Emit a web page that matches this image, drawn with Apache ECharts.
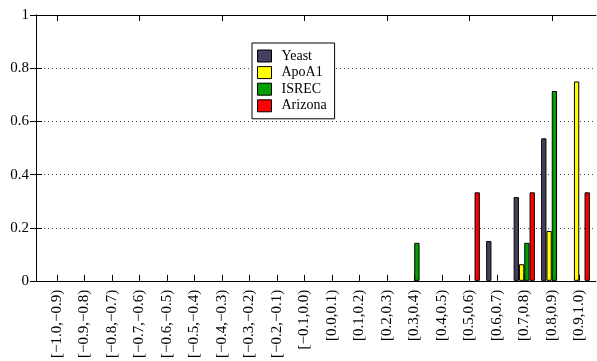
<!DOCTYPE html>
<html><head><meta charset="utf-8">
<script src="https://cdn.jsdelivr.net/npm/echarts@6/dist/echarts.min.js"></script>
<style>html,body{margin:0;padding:0;background:#fff}#c{width:597px;height:361px}</style>
</head><body><div id="c"></div>
<script>
const categories = ["[\u22121.0,\u22120.9)","[\u22120.9,\u22120.8)","[\u22120.8,\u22120.7)","[\u22120.7,\u22120.6)","[\u22120.6,\u22120.5)","[\u22120.5,\u22120.4)","[\u22120.4,\u22120.3)","[\u22120.3,\u22120.2)","[\u22120.2,\u22120.1)","[\u22120.1,0.0)","[0.0,0.1)","[0.1,0.2)","[0.2,0.3)","[0.3,0.4)","[0.4,0.5)","[0.5,0.6)","[0.6,0.7)","[0.7,0.8)","[0.8,0.9)","[0.9,1.0)"];
const seriesNames = ["Yeast","ApoA1","ISREC","Arizona"];
const yeast   = [0,0,0,0,0,0,0,0,0,0,0,0,0,0,0,0,0.15,0.315,0.536,0];
const apoa1   = [0,0,0,0,0,0,0,0,0,0,0,0,0,0,0,0,0,0.0625,0.1875,0.75];
const isrec   = [0,0,0,0,0,0,0,0,0,0,0,0,0,0.143,0,0,0,0.143,0.714,0];
const arizona = [0,0,0,0,0,0,0,0,0,0,0,0,0,0,0,0.333,0,0.333,0,0.333];
const colors = ["#463f5f","#ffff00","#00a000","#ff0000"];
const yTicks = {min:0, max:1, interval:0.2};

const font = "'Liberation Serif','DejaVu Serif',serif";
const chart = echarts.init(document.getElementById('c'), null, {renderer:'canvas'});
const values = [yeast, apoa1, isrec, arizona];
chart.setOption({
  animation:false,
  backgroundColor:'#fff',
  color: colors,
  legend:{
    orient:'vertical', left:252, top:43,
    padding:[6,8,6,5], itemGap:2.6, itemWidth:14, itemHeight:12,
    backgroundColor:'#fff', borderColor:'#000', borderWidth:1,
    icon:'rect',
    itemStyle:{borderColor:'#000', borderWidth:1},
    textStyle:{fontFamily:font, fontSize:14, lineHeight:12, color:'#000', padding:[0,0,0,5]},
    data: seriesNames
  },
  grid:[
    {left:43, right:4, top:15, bottom:80},
    {left:36, right:1, top:15, bottom:80}
  ],
  xAxis:[
    {type:'category', gridIndex:0, position:'bottom', data:categories,
     axisLine:{show:false},
     axisTick:{show:true, inside:true, length:6, alignWithLabel:true, lineStyle:{color:'#000'}},
     axisLabel:{rotate:90, margin:9, fontFamily:font, fontSize:15, color:'#000', interval:0}},
    {type:'category', gridIndex:0, position:'top', data:categories,
     axisLine:{show:false},
     axisTick:{show:true, inside:true, length:6, alignWithLabel:true, lineStyle:{color:'#000'}},
     axisLabel:{show:false}},
    {type:'value', gridIndex:1, position:'bottom', min:0, max:1,
     axisLine:{show:true, onZero:false, lineStyle:{color:'#000', width:1}},
     axisTick:{show:false}, axisLabel:{show:false}, splitLine:{show:false}},
    {type:'value', gridIndex:1, position:'top', min:0, max:1,
     axisLine:{show:true, onZero:false, lineStyle:{color:'#000', width:1}},
     axisTick:{show:false}, axisLabel:{show:false}, splitLine:{show:false}}
  ],
  yAxis:[
    {type:'value', gridIndex:0, min:yTicks.min, max:yTicks.max, interval:yTicks.interval, show:false},
    {type:'value', gridIndex:1, position:'left', min:yTicks.min, max:yTicks.max, interval:yTicks.interval,
     axisLine:{show:true, lineStyle:{color:'#000', width:1}},
     axisTick:{show:true, inside:true, length:6, lineStyle:{color:'#000'}},
     axisLabel:{margin:7, fontFamily:font, fontSize:15, color:'#000'},
     splitLine:{show:true, lineStyle:{color:'#444', type:[1,3], width:1}}},
    {type:'value', gridIndex:1, position:'right', min:yTicks.min, max:yTicks.max, interval:yTicks.interval,
     axisLine:{show:true, lineStyle:{color:'#000', width:1}},
     axisTick:{show:true, inside:true, length:6, lineStyle:{color:'#000'}},
     axisLabel:{show:false}, splitLine:{show:false}}
  ],
  series: seriesNames.map((n,i)=>({
    name:n, type:'bar', xAxisIndex:0, yAxisIndex:0,
    data: values[i].map(v => ({value:v, itemStyle:{borderWidth: v > 0 ? 1 : 0, opacity: v > 0 ? 1 : 0}})),
    barWidth:5.3, barGap:'0%',
    itemStyle:{color:colors[i], borderColor:'#000', borderWidth:1}
  }))
});
</script></body></html>
